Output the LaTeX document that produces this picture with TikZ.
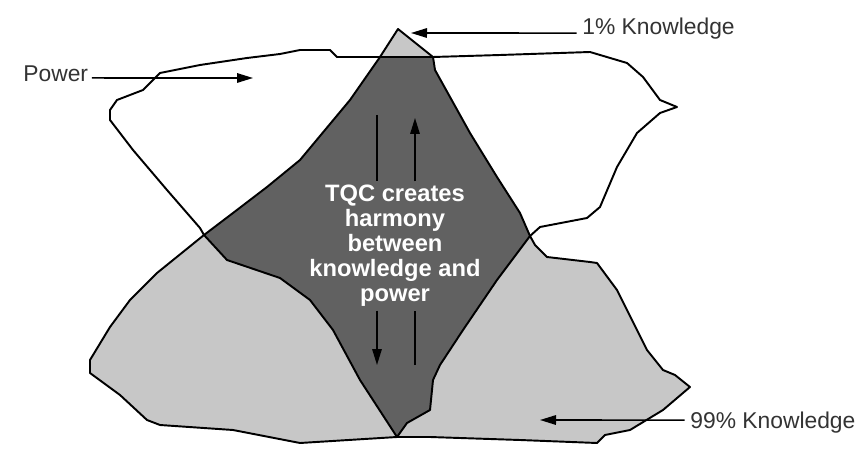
\documentclass[tikz,border=0pt]{standalone}
\usepackage{fontspec}
\setmainfont{Liberation Sans}
\usetikzlibrary{arrows.meta}
\colorlet{dark}{black!62}
\colorlet{light}{black!22}

\begin{document}
\begin{tikzpicture}[x=0.02cm,y=-0.02cm,
  edge/.style={line width=1.1pt,line join=round},
  ln/.style={line width=0.9pt},
  ar/.style={ln,-{Triangle[length=3.2mm,width=1.9mm]}},
  lbl/.style={font=\fontsize{13}{15}\selectfont,text=black!80,inner sep=0pt},
  core/.style={font=\bfseries\fontsize{13.5}{14.2}\selectfont,text=white,
    align=center,inner sep=2pt}]
\useasboundingbox[fill=white] (0,0) rectangle (859,459);
% corners of the harmony region
\coordinate (A) at (398,29);
\coordinate (TL) at (380,57);
\coordinate (TR) at (433,57);
\coordinate (L) at (204,235);
\coordinate (R) at (530,236);
\coordinate (B) at (397,437);
% 99% knowledge (lower shape)
\fill[light] (L) -- (157,273) -- (130,300) -- (110,327) -- (90,360) -- (90,373)
  -- (120,395) -- (147,420) -- (160,425) -- (233,430) -- (300,443) -- (B)
  -- (430,437) -- (520,440) -- (597,443) -- (605,435) -- (630,430) -- (663,410)
  -- (690,387) -- (675,375) -- (663,370) -- (647,350) -- (617,290) -- (597,263)
  -- (590,262) -- (547,257) -- (535,245) -- (R) -- cycle;
\draw[edge] (L) -- (157,273) -- (130,300) -- (110,327) -- (90,360) -- (90,373)
  -- (120,395) -- (147,420) -- (160,425) -- (233,430) -- (300,443) -- (B)
  -- (430,437) -- (520,440) -- (597,443) -- (605,435) -- (630,430) -- (663,410)
  -- (690,387) -- (675,375) -- (663,370) -- (647,350) -- (617,290) -- (597,263)
  -- (590,262) -- (547,257) -- (535,245) -- (R);
% harmony region
\filldraw[edge,fill=dark] (TL) -- (350,100) -- (300,160) -- (267,187) -- (233,213)
  -- (L) -- (227,260) -- (280,278) -- (310,300) -- (333,330) -- (360,380) -- (B)
  -- (407,423) -- (430,410) -- (433,380) -- (440,365) -- (463,330) -- (497,280)
  -- (R) -- (520,213) -- (497,177) -- (470,133) -- (450,97) -- (435,70) -- (TR)
  -- cycle;
% 1% tip
\filldraw[edge,fill=light] (TL) -- (A) -- (TR) -- cycle;
% power (upper shape)
\draw[edge] (L) -- (200,228) -- (167,190) -- (133,150) -- (110,120) -- (110,110)
  -- (117,100) -- (143,90) -- (160,73) -- (200,65) -- (247,58) -- (280,54)
  -- (300,50) -- (330,50) -- (337,57) -- (TL) -- (TR) -- (500,55) -- (590,52)
  -- (627,63) -- (643,77) -- (660,100) -- (677,107) -- (660,113) -- (637,133)
  -- (617,167) -- (600,207) -- (587,218) -- (540,227) -- (R);
% labels
\node[lbl,anchor=base west] (power) at (23,82) {Power};
\node[lbl,anchor=base west] (tipk) at (582,35) {1\% Knowledge};
\node[lbl,anchor=base west] (basek) at (690,428) {99\% Knowledge};
\coordinate (powerend) at (253,78);
\coordinate (tipend) at (411,33);
\coordinate (baseend) at (540,420);
\draw[ar] ([xshift=2pt,yshift=2.3pt]power.base east) -- (powerend);
\draw[ar] ([xshift=-3pt,yshift=1.1pt]tipk.base west) -- (tipend);
\draw[ar] ([xshift=-3pt,yshift=4.5pt]basek.base west) -- (baseend);
% two-way flow through the text
\node[core] (tqc) at (395,246) {TQC creates\\harmony\\between\\knowledge and\\power};
\coordinate (dntop) at (377,115);
\coordinate (dnbot) at (377,365);
\coordinate (upbot) at (415,365);
\coordinate (uptop) at (415,118);
\draw[ln] (dntop) -- (tqc.north -| dntop);
\draw[ar] (tqc.south -| dnbot) -- (dnbot);
\draw[ln] (upbot) -- (tqc.south -| upbot);
\draw[ar] (tqc.north -| uptop) -- (uptop);
\end{tikzpicture}
\end{document}
